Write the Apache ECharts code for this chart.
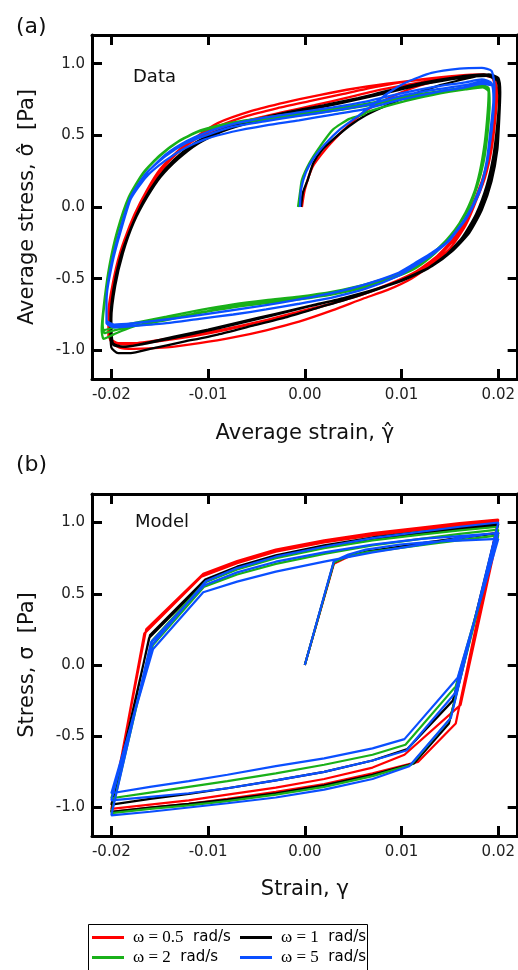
<!DOCTYPE html>
<html><head><meta charset="utf-8">
<script src="https://cdn.jsdelivr.net/npm/echarts@6/dist/echarts.min.js"></script>
<style>html,body{margin:0;padding:0;background:#fff}#c{width:518px;height:970px}</style>
</head><body><div id="c"></div>
<script>
// ---- tick values ----
const xTicks = [-0.02, -0.01, 0, 0.01, 0.02];
const yTicks = [-1, -0.5, 0, 0.5, 1];
const seriesNames = ['ω = 0.5 rad/s', 'ω = 1 rad/s', 'ω = 2 rad/s', 'ω = 5 rad/s'];

// ---- (a) measured data: [strain, stress] ----
const dataRed = [
 [-0.0003,0],[0.0000,0.12],[0.0008,0.28],[0.0021,0.40],[0.0036,0.51],[0.0050,0.60],[0.0065,0.68],[0.0090,0.77],[0.0120,0.85],[0.0150,0.90],[0.0178,0.92],[0.0193,0.91],
 [0.0197,0.82],[0.0196,0.66],[0.0193,0.45],[0.0187,0.25],[0.0178,0.06],[0.0166,-0.13],[0.0150,-0.29],[0.0131,-0.40],[0.0110,-0.50],[0.0085,-0.58],[0.0060,-0.64],[0.0029,-0.72],[-0.0006,-0.80],[-0.0040,-0.86],[-0.0074,-0.91],[-0.0109,-0.95],[-0.0143,-0.98],[-0.0177,-0.99],[-0.0192,-0.98],[-0.0201,-0.93],
 [-0.0203,-0.80],[-0.0200,-0.60],[-0.0194,-0.40],[-0.0186,-0.22],[-0.0176,-0.05],[-0.0163,0.12],[-0.0150,0.26],[-0.0133,0.38],[-0.0116,0.465],[-0.0092,0.53],[-0.0058,0.605],[-0.0024,0.66],[0.0010,0.71],[0.0045,0.765],[0.0080,0.82],[0.0115,0.865],[0.0150,0.90],[0.0180,0.92],[0.0195,0.91],
 [0.0199,0.80],[0.0197,0.62],[0.0193,0.40],[0.0186,0.20],[0.0174,0.00],[0.0160,-0.18],[0.0142,-0.32],[0.0120,-0.44],[0.0097,-0.51],[0.0063,-0.60],[0.0029,-0.67],[-0.0006,-0.73],[-0.0040,-0.79],[-0.0074,-0.84],[-0.0109,-0.885],[-0.0143,-0.92],[-0.0177,-0.95],[-0.0193,-0.95],[-0.0202,-0.91],
 [-0.0203,-0.76],[-0.0199,-0.55],[-0.0191,-0.32],[-0.0180,-0.12],[-0.0166,0.07],[-0.0152,0.22],[-0.0136,0.35],[-0.0118,0.45],[-0.0095,0.545],[-0.0062,0.63],[-0.0028,0.69],[0.0006,0.74],[0.0040,0.79],[0.0075,0.84],[0.0110,0.88],[0.0145,0.905],[0.0178,0.92],[0.0195,0.90],
 [0.0198,0.78],[0.0196,0.60],[0.0191,0.38],[0.0183,0.18],[0.0171,-0.02],[0.0156,-0.20],[0.0137,-0.34],[0.0115,-0.45],[0.0090,-0.53],[0.0060,-0.61],[0.0025,-0.68],[-0.0010,-0.745],[-0.0045,-0.80],[-0.0080,-0.855],[-0.0115,-0.90],[-0.0150,-0.935],[-0.0180,-0.96],[-0.0195,-0.95],[-0.0203,-0.90],
 [-0.0203,-0.74],[-0.0198,-0.52],[-0.0189,-0.30],[-0.0178,-0.10],[-0.0164,0.09],[-0.0150,0.235],[-0.0134,0.37],[-0.0115,0.475],[-0.0090,0.585],[-0.0055,0.67],[-0.0020,0.73],[0.0015,0.78],[0.0050,0.825],[0.0085,0.86],[0.0120,0.89],[0.0155,0.915],[0.0185,0.925],[0.0196,0.89],[0.0198,0.80]
];
const dataBlack = [
 [-0.0004,0],[-0.0002,0.10],[0.0003,0.19],[0.0009,0.31],[0.0018,0.40],[0.0029,0.47],[0.0046,0.565],[0.0063,0.64],[0.0085,0.71],[0.0110,0.78],[0.0140,0.85],[0.0170,0.90],[0.0190,0.925],[0.0200,0.90],
 [0.0202,0.80],[0.0201,0.62],[0.0199,0.40],[0.0193,0.18],[0.0183,-0.02],[0.0170,-0.18],[0.0152,-0.31],[0.0132,-0.41],[0.0110,-0.48],[0.0085,-0.55],[0.0050,-0.63],[0.0015,-0.70],[-0.0020,-0.77],[-0.0055,-0.83],[-0.0090,-0.89],[-0.0125,-0.94],[-0.0160,-0.99],[-0.0180,-1.02],[-0.0193,-1.02],[-0.0200,-0.98],
 [-0.0201,-0.80],[-0.0198,-0.58],[-0.0191,-0.36],[-0.0180,-0.15],[-0.0167,0.04],[-0.0152,0.20],[-0.0135,0.33],[-0.0115,0.44],[-0.0090,0.53],[-0.0055,0.60],[-0.0020,0.655],[0.0015,0.70],[0.0050,0.75],[0.0085,0.81],[0.0120,0.865],[0.0155,0.905],[0.0185,0.925],[0.0199,0.90],
 [0.0201,0.78],[0.0200,0.60],[0.0197,0.38],[0.0190,0.16],[0.0180,-0.04],[0.0166,-0.20],[0.0148,-0.33],[0.0127,-0.43],[0.0104,-0.50],[0.0075,-0.57],[0.0040,-0.635],[0.0005,-0.69],[-0.0030,-0.745],[-0.0065,-0.80],[-0.0100,-0.855],[-0.0135,-0.905],[-0.0165,-0.95],[-0.0185,-0.975],[-0.0198,-0.96],
 [-0.0200,-0.78],[-0.0196,-0.55],[-0.0188,-0.32],[-0.0177,-0.11],[-0.0163,0.07],[-0.0148,0.22],[-0.0130,0.345],[-0.0110,0.45],[-0.0085,0.535],[-0.0050,0.61],[-0.0015,0.665],[0.0020,0.71],[0.0055,0.76],[0.0090,0.815],[0.0125,0.865],[0.0160,0.905],[0.0188,0.92],[0.0200,0.89],
 [0.0201,0.76],[0.0199,0.58],[0.0195,0.36],[0.0188,0.15],[0.0177,-0.05],[0.0163,-0.21],[0.0145,-0.34],[0.0124,-0.44],[0.0100,-0.515],[0.0070,-0.58],[0.0035,-0.645],[0.0000,-0.70],[-0.0035,-0.76],[-0.0070,-0.815],[-0.0105,-0.87],[-0.0140,-0.92],[-0.0170,-0.96],[-0.0188,-0.975],[-0.0199,-0.945],
 [-0.0200,-0.76],[-0.0197,-0.56],[-0.0189,-0.33],[-0.0178,-0.12],[-0.0164,0.06],[-0.0149,0.21],[-0.0131,0.335],[-0.0111,0.44],[-0.0086,0.525],[-0.0050,0.60],[-0.0015,0.655],[0.0020,0.70],[0.0055,0.75],[0.0090,0.805],[0.0125,0.86],[0.0160,0.90],[0.0188,0.915],[0.0199,0.88],[0.0201,0.78]
];
const dataGreen = [
 [-0.0007,0],[-0.0005,0.10],[-0.0003,0.19],[0.0005,0.31],[0.0016,0.425],[0.0029,0.54],[0.0046,0.615],[0.0061,0.645],[0.0063,0.66],[0.0090,0.715],[0.0120,0.765],[0.0150,0.805],[0.0175,0.835],[0.0187,0.84],
 [0.0190,0.80],[0.0189,0.66],[0.0186,0.45],[0.0181,0.25],[0.0174,0.08],[0.0163,-0.08],[0.0150,-0.21],[0.0135,-0.32],[0.0116,-0.42],[0.0097,-0.48],[0.0063,-0.56],[0.0029,-0.61],[-0.0006,-0.645],[-0.0040,-0.67],[-0.0074,-0.70],[-0.0109,-0.74],[-0.0143,-0.79],[-0.0177,-0.83],[-0.0197,-0.86],[-0.0207,-0.88],
 [-0.0209,-0.82],[-0.0207,-0.65],[-0.0202,-0.41],[-0.0194,-0.17],[-0.0182,0.07],[-0.0167,0.24],[-0.0150,0.36],[-0.0130,0.46],[-0.0109,0.53],[-0.0074,0.585],[-0.0040,0.615],[-0.0006,0.645],[0.0029,0.675],[0.0063,0.71],[0.0097,0.755],[0.0131,0.79],[0.0166,0.825],[0.0183,0.84],[0.0190,0.82],
 [0.0191,0.72],[0.0189,0.52],[0.0185,0.32],[0.0178,0.14],[0.0168,-0.03],[0.0155,-0.16],[0.0138,-0.29],[0.0118,-0.40],[0.0098,-0.465],[0.0063,-0.54],[0.0029,-0.59],[-0.0006,-0.625],[-0.0040,-0.65],[-0.0074,-0.68],[-0.0109,-0.72],[-0.0143,-0.765],[-0.0177,-0.81],[-0.0197,-0.84],[-0.0208,-0.86],
 [-0.0209,-0.80],[-0.0206,-0.62],[-0.0201,-0.39],[-0.0193,-0.16],[-0.0181,0.075],[-0.0166,0.245],[-0.0149,0.365],[-0.0129,0.465],[-0.0108,0.535],[-0.0074,0.59],[-0.0040,0.625],[-0.0006,0.655],[0.0029,0.685],[0.0063,0.72],[0.0097,0.765],[0.0131,0.80],[0.0166,0.835],[0.0184,0.85],[0.0190,0.83],
 [0.0191,0.70],[0.0188,0.50],[0.0184,0.30],[0.0176,0.12],[0.0166,-0.04],[0.0153,-0.18],[0.0136,-0.30],[0.0116,-0.41],[0.0096,-0.47],[0.0060,-0.55],[0.0025,-0.60],[-0.0010,-0.64],[-0.0045,-0.665],[-0.0080,-0.70],[-0.0115,-0.745],[-0.0150,-0.79],[-0.0180,-0.84],[-0.0198,-0.89],[-0.0208,-0.92],
 [-0.0210,-0.86],[-0.0208,-0.70],[-0.0203,-0.45],[-0.0195,-0.20],[-0.0183,0.05],[-0.0168,0.225],[-0.0151,0.35],[-0.0131,0.455],[-0.0110,0.525],[-0.0075,0.58],[-0.0040,0.61],[-0.0006,0.64],[0.0029,0.67],[0.0063,0.705],[0.0097,0.75],[0.0131,0.785],[0.0166,0.82],[0.0184,0.835],[0.0190,0.81]
];
const dataBlue = [
 [-0.0005,0],[-0.0004,0.12],[0.0001,0.24],[0.0009,0.34],[0.0021,0.44],[0.0036,0.54],[0.0052,0.62],[0.0068,0.70],[0.0085,0.79],[0.0105,0.87],[0.0131,0.935],[0.0160,0.965],[0.0183,0.97],[0.0193,0.95],
 [0.0196,0.85],[0.0195,0.66],[0.0191,0.425],[0.0184,0.19],[0.0170,-0.04],[0.0150,-0.23],[0.0132,-0.33],[0.0114,-0.41],[0.0097,-0.48],[0.0063,-0.57],[0.0029,-0.63],[-0.0006,-0.675],[-0.0040,-0.715],[-0.0074,-0.75],[-0.0109,-0.78],[-0.0143,-0.81],[-0.0177,-0.83],[-0.0197,-0.84],[-0.0205,-0.81],
 [-0.0205,-0.66],[-0.0200,-0.40],[-0.0191,-0.16],[-0.0180,0.07],[-0.0164,0.235],[-0.0144,0.355],[-0.0123,0.445],[-0.0102,0.50],[-0.0074,0.56],[-0.0040,0.60],[-0.0006,0.635],[0.0029,0.67],[0.0063,0.71],[0.0097,0.77],[0.0131,0.815],[0.0166,0.85],[0.0183,0.875],[0.0193,0.86],
 [0.0195,0.76],[0.0193,0.56],[0.0189,0.33],[0.0181,0.11],[0.0167,-0.08],[0.0148,-0.24],[0.0131,-0.32],[0.0114,-0.39],[0.0097,-0.46],[0.0063,-0.54],[0.0029,-0.60],[-0.0006,-0.645],[-0.0040,-0.685],[-0.0074,-0.72],[-0.0109,-0.755],[-0.0143,-0.785],[-0.0177,-0.81],[-0.0197,-0.82],[-0.0205,-0.79],
 [-0.0205,-0.64],[-0.0199,-0.39],[-0.0190,-0.16],[-0.0179,0.075],[-0.0163,0.24],[-0.0143,0.37],[-0.0122,0.46],[-0.0102,0.52],[-0.0074,0.58],[-0.0040,0.625],[-0.0006,0.66],[0.0029,0.695],[0.0063,0.735],[0.0097,0.79],[0.0131,0.835],[0.0166,0.87],[0.0183,0.89],[0.0193,0.865],
 [0.0195,0.75],[0.0192,0.54],[0.0188,0.32],[0.0180,0.10],[0.0165,-0.09],[0.0146,-0.25],[0.0129,-0.33],[0.0112,-0.40],[0.0095,-0.465],[0.0060,-0.545],[0.0025,-0.605],[-0.0010,-0.65],[-0.0045,-0.69],[-0.0080,-0.725],[-0.0115,-0.76],[-0.0150,-0.79],[-0.0180,-0.815],[-0.0198,-0.825],[-0.0205,-0.80],
 [-0.0205,-0.65],[-0.0200,-0.40],[-0.0191,-0.165],[-0.0180,0.055],[-0.0164,0.21],[-0.0145,0.32],[-0.0124,0.41],[-0.0104,0.47],[-0.0075,0.525],[-0.0040,0.57],[-0.0006,0.605],[0.0029,0.645],[0.0063,0.685],[0.0097,0.745],[0.0131,0.795],[0.0166,0.835],[0.0183,0.86],[0.0193,0.85]
];

// ---- (b) model: [strain, stress] ----
const modelRed = [
 [0,0],[0.003,0.71],[0.0045,0.76],[0.0063,0.79],[0.0097,0.825],[0.013,0.86],[0.0165,0.895],[0.020,0.93],
 [0.0161,-0.28],[0.0103,-0.63],
 [0.007,-0.72],[0.002,-0.80],[-0.003,-0.86],[-0.008,-0.91],[-0.012,-0.95],[-0.016,-0.98],[-0.020,-1.01],
 [-0.0164,0.25],[-0.0105,0.64],
 [-0.007,0.73],[-0.003,0.81],[0.002,0.875],[0.007,0.925],[0.012,0.965],[0.016,0.995],[0.020,1.02],
 [0.0156,-0.41],[0.0117,-0.68],
 [0.007,-0.76],[0.002,-0.835],[-0.003,-0.89],[-0.008,-0.94],[-0.012,-0.975],[-0.016,-1.0],[-0.020,-1.03],
 [-0.0166,0.22],[-0.0107,0.62],
 [-0.007,0.715],[-0.003,0.795],[0.002,0.86],[0.007,0.91],[0.012,0.95],[0.016,0.98],[0.020,1.005]
];
const modelBlack = [
 [0,0],[0.003,0.72],[0.0045,0.765],[0.0063,0.795],[0.0097,0.83],[0.013,0.865],[0.0165,0.895],[0.020,0.925],
 [0.0153,-0.25],[0.0106,-0.59],
 [0.007,-0.67],[0.002,-0.75],[-0.003,-0.81],[-0.008,-0.865],[-0.012,-0.905],[-0.016,-0.94],[-0.020,-0.98],
 [-0.0160,0.21],[-0.0103,0.60],
 [-0.007,0.69],[-0.003,0.77],[0.002,0.84],[0.007,0.895],[0.012,0.935],[0.016,0.965],[0.020,0.99],
 [0.0149,-0.41],[0.0113,-0.69],
 [0.007,-0.77],[0.002,-0.845],[-0.003,-0.90],[-0.008,-0.945],[-0.012,-0.975],[-0.016,-1.0],[-0.020,-1.03],
 [-0.0161,0.19],[-0.0104,0.58],
 [-0.007,0.675],[-0.003,0.755],[0.002,0.825],[0.007,0.88],[0.012,0.92],[0.016,0.95],[0.020,0.975]
];
const modelGreen = [
 [0,0],[0.003,0.72],[0.0045,0.765],[0.0063,0.79],[0.0097,0.82],[0.013,0.85],[0.0165,0.88],[0.020,0.91],
 [0.0156,-0.15],[0.0104,-0.56],
 [0.007,-0.63],[0.002,-0.70],[-0.003,-0.76],[-0.008,-0.815],[-0.012,-0.855],[-0.016,-0.895],[-0.020,-0.935],
 [-0.0157,0.14],[-0.0104,0.55],
 [-0.007,0.635],[-0.003,0.71],[0.002,0.78],[0.007,0.84],[0.012,0.885],[0.016,0.92],[0.020,0.95],
 [0.0150,-0.38],[0.0110,-0.70],
 [0.007,-0.78],[0.002,-0.855],[-0.003,-0.91],[-0.008,-0.955],[-0.012,-0.985],[-0.016,-1.01],[-0.020,-1.04],
 [-0.0158,0.17],[-0.0103,0.58],
 [-0.007,0.67],[-0.003,0.75],[0.002,0.82],[0.007,0.875],[0.012,0.915],[0.016,0.945],[0.020,0.97]
];
const modelBlue = [
 [0,0],[0.003,0.73],[0.0045,0.775],[0.0063,0.81],[0.0098,0.845],[0.013,0.865],[0.0165,0.875],[0.020,0.885],
 [0.0158,-0.09],[0.0103,-0.52],
 [0.007,-0.585],[0.002,-0.655],[-0.003,-0.71],[-0.008,-0.77],[-0.012,-0.815],[-0.016,-0.855],[-0.020,-0.90],
 [-0.0157,0.11],[-0.0105,0.51],
 [-0.007,0.585],[-0.003,0.655],[0.002,0.725],[0.007,0.79],[0.012,0.845],[0.016,0.89],[0.020,0.93],
 [0.0155,-0.20],[0.0105,-0.60],
 [0.007,-0.67],[0.002,-0.75],[-0.003,-0.81],[-0.008,-0.865],[-0.012,-0.90],[-0.016,-0.925],[-0.020,-0.95],
 [-0.0158,0.14],[-0.0102,0.59],
 [-0.007,0.68],[-0.003,0.76],[0.002,0.83],[0.007,0.89],[0.012,0.935],[0.016,0.97],[0.020,1.0],
 [0.0151,-0.37],[0.0108,-0.71],
 [0.007,-0.80],[0.002,-0.875],[-0.003,-0.93],[-0.008,-0.97],[-0.012,-1.0],[-0.016,-1.03],[-0.020,-1.055],
 [-0.0159,0.16],[-0.0104,0.56],
 [-0.007,0.65],[-0.003,0.725],[0.002,0.79],[0.007,0.845],[0.012,0.885],[0.016,0.905],[0.020,0.925]
];

// ---- styling ----
const colors = ['#ff0000', '#000000', '#19b019', '#0a4fff'];
const FONT = 'DejaVu Sans';
const chart = echarts.init(document.getElementById('c'), null, {renderer: 'canvas'});

function xAxes(g, name, gap) {
  const line = {onZero: false, lineStyle: {color: '#000', width: 3}};
  const tick = {inside: true, length: 10, customValues: xTicks, lineStyle: {color: '#000', width: 3}};
  return [
    {gridIndex: g, type: 'value', min: -0.022, max: 0.022, position: 'bottom',
     axisLine: line, axisTick: tick, splitLine: {show: false},
     axisLabel: {customValues: xTicks, formatter: v => v.toFixed(2), color: '#222', fontSize: 15, fontFamily: FONT, margin: 9},
     name: name, nameLocation: 'middle', nameGap: gap,
     nameTextStyle: {fontSize: 21, color: '#111', fontFamily: FONT}},
    {gridIndex: g, type: 'value', min: -0.022, max: 0.022, position: 'top',
     axisLine: line, axisTick: tick, splitLine: {show: false}, axisLabel: {show: false}}
  ];
}
function yAxes(g, name) {
  const line = {onZero: false, lineStyle: {color: '#000', width: 3}};
  const tick = {inside: true, length: 10, customValues: yTicks, lineStyle: {color: '#000', width: 3}};
  return [
    {gridIndex: g, type: 'value', min: -1.2, max: 1.2, position: 'left',
     axisLine: line, axisTick: tick, splitLine: {show: false},
     axisLabel: {customValues: yTicks, formatter: v => v.toFixed(1), color: '#222', fontSize: 15, fontFamily: FONT, margin: 7},
     name: name, nameLocation: 'middle', nameGap: 54,
     nameTextStyle: {fontSize: 21, color: '#111', fontFamily: FONT}},
    {gridIndex: g, type: 'value', min: -1.2, max: 1.2, position: 'right',
     axisLine: line, axisTick: tick, splitLine: {show: false}, axisLabel: {show: false}}
  ];
}

const dataSets = [dataRed, dataBlack, dataGreen, dataBlue];
const modelSets = [modelRed, modelBlack, modelGreen, modelBlue];
const series = [];
dataSets.forEach((d, i) => series.push({
  name: seriesNames[i], type: 'line', xAxisIndex: 0, yAxisIndex: 0, data: d,
  symbol: 'none', smooth: 0.2, color: colors[i], lineStyle: {color: colors[i], width: 2.3}, z: 2 + i
}));
modelSets.forEach((d, i) => series.push({
  name: seriesNames[i], type: 'line', xAxisIndex: 2, yAxisIndex: 2, data: d,
  symbol: 'none', smooth: false, color: colors[i], lineStyle: {color: colors[i], width: 2.2}, z: 2 + i
}));

const legendCommon = {
  orient: 'vertical', icon: 'rect', itemWidth: 32, itemHeight: 3, itemGap: 3, padding: 0,
  formatter: n => '{s|' + n.replace(' rad/s', '') + '}{t|  rad/s}',
  textStyle: {rich: {
    s: {fontFamily: 'Liberation Serif', fontSize: 17, lineHeight: 18, color: '#000', padding: [0, 0, 0, 4]},
    t: {fontFamily: FONT, fontSize: 15, lineHeight: 18, color: '#000'}
  }}
};

chart.setOption({
  animation: false,
  backgroundColor: '#fff',
  textStyle: {fontFamily: FONT},
  title: [
    {text: '(a)', left: 16, top: 16, padding: 0, textStyle: {fontSize: 22, fontWeight: 'normal', color: '#111', fontFamily: FONT}},
    {text: '(b)', left: 16, top: 454, padding: 0, textStyle: {fontSize: 22, fontWeight: 'normal', color: '#111', fontFamily: FONT}},
    {text: 'Data', left: 133, top: 68, padding: 0, textStyle: {fontSize: 18, fontWeight: 'normal', color: '#111', fontFamily: FONT}},
    {text: 'Model', left: 135, top: 513, padding: 0, textStyle: {fontSize: 18, fontWeight: 'normal', color: '#111', fontFamily: FONT}}
  ],
  grid: [
    {left: 92, top: 35, width: 428, height: 344},
    {left: 92, top: 494, width: 428, height: 342}
  ],
  xAxis: [...xAxes(0, 'Average strain, \u03B3\u0302', 44), ...xAxes(1, 'Strain, \u03B3', 43)],
  yAxis: [...yAxes(0, 'Average stress, \u03C3\u0302  [Pa]'), ...yAxes(1, 'Stress, \u03C3  [Pa]')],
  legend: [
    Object.assign({data: [seriesNames[0], seriesNames[2]], left: 92, top: 929}, legendCommon),
    Object.assign({data: [seriesNames[1], seriesNames[3]], left: 240, top: 929}, legendCommon)
  ],
  graphic: [
    {type: 'rect', left: 86, top: 922, silent: true, z: 100,
     shape: {x: 0, y: 0, width: 279, height: 60}, style: {fill: 'none', stroke: '#000', lineWidth: 1}}
  ],
  series: series
});
</script></body></html>
